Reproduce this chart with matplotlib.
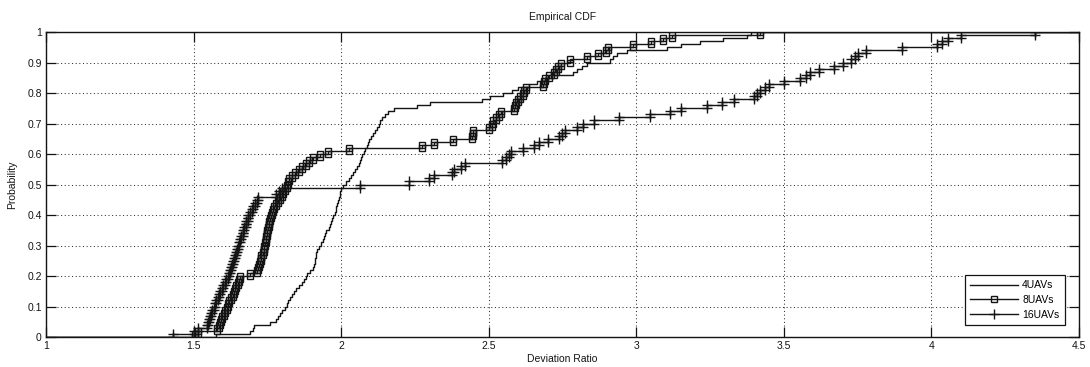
import numpy as np
import matplotlib
matplotlib.use("Agg")
import matplotlib.pyplot as plt
from matplotlib.ticker import FuncFormatter

plt.rcParams['font.family'] = ['Liberation Sans', 'DejaVu Sans']

# Deviation-ratio samples for each swarm size (100 runs each)
uav4 = [
    1.575, 1.690, 1.700, 1.705, 1.760, 1.780, 1.785, 1.792, 1.800, 1.810,
    1.815, 1.820, 1.826, 1.833, 1.840, 1.848, 1.856, 1.866, 1.874, 1.880,
    1.884, 1.895, 1.906, 1.908, 1.910, 1.912, 1.914, 1.916, 1.918, 1.925,
    1.932, 1.937, 1.941, 1.945, 1.950, 1.958, 1.962, 1.966, 1.969, 1.974,
    1.978, 1.981, 1.984, 1.986, 1.989, 1.992, 1.995, 1.997, 2.001, 2.006,
    2.015, 2.025, 2.032, 2.040, 2.048, 2.055, 2.060, 2.064, 2.068, 2.072,
    2.077, 2.082, 2.086, 2.090, 2.094, 2.100, 2.108, 2.115, 2.120, 2.127,
    2.133, 2.140, 2.150, 2.160, 2.180, 2.257, 2.300, 2.478, 2.505, 2.550,
    2.580, 2.600, 2.635, 2.663, 2.690, 2.720, 2.787, 2.800, 2.815, 2.832,
    2.911, 2.920, 2.935, 2.968, 3.103, 3.150, 3.216, 3.295, 3.374, 3.390,
]

uav8 = [
    1.505, 1.515, 1.580, 1.585, 1.590, 1.594, 1.598, 1.603, 1.608, 1.612,
    1.616, 1.620, 1.626, 1.632, 1.637, 1.641, 1.645, 1.649, 1.653, 1.656,
    1.690, 1.715, 1.719, 1.722, 1.725, 1.727, 1.730, 1.734, 1.737, 1.740,
    1.742, 1.744, 1.746, 1.748, 1.750, 1.752, 1.755, 1.757, 1.759, 1.762,
    1.766, 1.770, 1.774, 1.778, 1.786, 1.792, 1.798, 1.803, 1.810, 1.815,
    1.820, 1.825, 1.833, 1.845, 1.856, 1.866, 1.880, 1.890, 1.903, 1.927,
    1.956, 2.027, 2.274, 2.315, 2.380, 2.444, 2.446, 2.448, 2.500, 2.512,
    2.515, 2.525, 2.535, 2.540, 2.586, 2.590, 2.592, 2.598, 2.605, 2.615,
    2.620, 2.626, 2.683, 2.688, 2.692, 2.705, 2.720, 2.728, 2.735, 2.745,
    2.776, 2.832, 2.870, 2.898, 2.905, 2.990, 3.050, 3.090, 3.120, 3.420,
]

uav16 = [
    1.430, 1.500, 1.515, 1.545, 1.550, 1.553, 1.557, 1.560, 1.564, 1.568,
    1.572, 1.577, 1.582, 1.586, 1.591, 1.596, 1.600, 1.605, 1.610, 1.615,
    1.619, 1.622, 1.626, 1.630, 1.634, 1.637, 1.641, 1.644, 1.648, 1.652,
    1.655, 1.659, 1.662, 1.666, 1.669, 1.672, 1.676, 1.679, 1.683, 1.686,
    1.692, 1.697, 1.703, 1.708, 1.714, 1.720, 1.780, 1.790, 1.800, 2.065,
    2.229, 2.297, 2.314, 2.376, 2.382, 2.405, 2.420, 2.546, 2.560, 2.569,
    2.575, 2.615, 2.654, 2.671, 2.700, 2.739, 2.750, 2.760, 2.800, 2.819,
    2.858, 2.943, 3.045, 3.115, 3.150, 3.240, 3.290, 3.330, 3.400, 3.410,
    3.420, 3.435, 3.450, 3.500, 3.556, 3.575, 3.590, 3.620, 3.670, 3.700,
    3.727, 3.740, 3.750, 3.780, 3.900, 4.020, 4.035, 4.055, 4.100, 4.350,
]

series_names = ["4UAVs", "8UAVs", "16UAVs"]
series_data = [uav4, uav8, uav16]
series_markers = [None, "s", "+"]
series_msize = [0, 5, 7.5]

x_ticks = [1, 1.5, 2, 2.5, 3, 3.5, 4, 4.5]
y_ticks = [0, 0.1, 0.2, 0.3, 0.4, 0.5, 0.6, 0.7, 0.8, 0.9, 1]

FS = 7.5
INK = "#141414"

fig = plt.figure(figsize=(10.9, 3.67), dpi=100)
ax = fig.add_axes([0.0422, 0.0817, 0.9477, 0.8311])


def ecdf_vertices(sample):
    """Staircase vertices of an empirical CDF, like MATLAB's cdfplot."""
    x = np.sort(np.asarray(sample, dtype=float))
    n = len(x)
    F = np.arange(1, n + 1) / n
    vx = np.repeat(x, 2)
    vy = np.column_stack([np.r_[0.0, F[:-1]], F]).ravel()
    # extend to -inf at 0 and +inf at 1
    xs = np.r_[-100.0, vx, 100.0]
    ys = np.r_[0.0, vy, 1.0]
    return xs, ys


for name, data, mk, ms in zip(series_names, series_data, series_markers, series_msize):
    xs, ys = ecdf_vertices(data)
    kw = dict(color=INK, lw=1.0, label=name)
    if mk is not None:
        kw.update(marker=mk, markersize=ms, markerfacecolor="none",
                  markeredgecolor=INK, markeredgewidth=1.0,
                  markevery=slice(1, len(xs) - 1))
    ax.plot(xs, ys, **kw)

ax.set_xlim(1, 4.5)
ax.set_ylim(0, 1)
ax.set_xticks(x_ticks)
ax.set_yticks(y_ticks)
ax.xaxis.set_major_formatter(FuncFormatter(lambda v, p: f"{v:g}"))
ax.yaxis.set_major_formatter(FuncFormatter(lambda v, p: f"{v:g}"))

ax.grid(True, linestyle=(0, (1, 2.5)), color="#333333", linewidth=0.75)
ax.set_axisbelow(True)
ax.tick_params(direction="in", length=7, width=0.9, top=True, right=True,
               labelsize=FS, colors=INK, pad=3)
for sp in ax.spines.values():
    sp.set_linewidth(1.0)
    sp.set_color(INK)

ax.set_title("Empirical CDF", fontsize=FS, color=INK, pad=9)
ax.set_xlabel("Deviation Ratio", fontsize=FS, color=INK, labelpad=2)
ax.set_ylabel("Probability", fontsize=FS, color=INK, labelpad=7)

leg = ax.legend(loc="lower right", bbox_to_anchor=(0.986, 0.04), fontsize=FS,
                frameon=True, fancybox=False, framealpha=1, edgecolor=INK,
                handlelength=4.6, handletextpad=0.4, borderpad=0.5,
                labelspacing=0.45, numpoints=1, borderaxespad=0)
leg.get_frame().set_linewidth(0.9)

fig.savefig("out.png", dpi=100)
